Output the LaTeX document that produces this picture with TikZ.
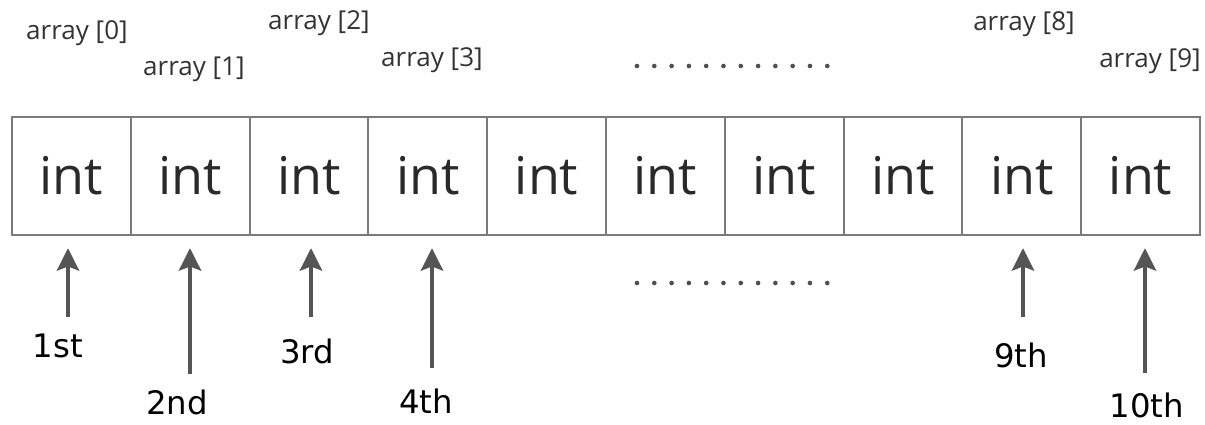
\documentclass[tikz,border=0pt]{standalone}
\usepackage{fontspec}
\setmainfont{Open Sans}
\newfontfamily\ordfont{DejaVu Sans}
\usetikzlibrary{arrows.meta,positioning}
\definecolor{cellline}{HTML}{7A7A7A}
\definecolor{inttext}{HTML}{2A2A2A}
\definecolor{idxtext}{HTML}{333333}
\definecolor{ptrgray}{HTML}{555555}
\definecolor{dotgray}{HTML}{505050}

\begin{document}
\begin{tikzpicture}[x=0.025cm, y=-0.025cm,
        cell/.style={rectangle, draw=cellline, line width=1.3pt, minimum width=2.97cm, minimum height=2.95cm, inner sep=0pt, outer sep=0pt, text=inttext, font=\fontsize{37}{40}\selectfont},
        idx/.style={inner sep=0pt, text=idxtext, font=\fontsize{18.5}{21}\selectfont},
        ord/.style={inner sep=0pt, text=black, font=\ordfont\fontsize{23}{26}\selectfont},
        ptr/.style={-{Stealth[length=16pt, width=16pt, inset=3pt]}, line width=2.2pt, draw=ptrgray, shorten >=0.33cm},
        dots/.style={line width=3.3pt, line cap=round, dash pattern=on 0pt off 12.3pt, draw=dotgray},
    ]
        \useasboundingbox (0,0) rectangle (1205,424);

        % the ten cells of the array
        \node[cell] (c0) at (71.4,176) {int};
        \node[cell] (c1) at (190.2,176) {int};
        \node[cell] (c2) at (309,176) {int};
        \node[cell] (c3) at (427.8,176) {int};
        \node[cell] (c4) at (546.6,176) {int};
        \node[cell] (c5) at (665.4,176) {int};
        \node[cell] (c6) at (784.2,176) {int};
        \node[cell] (c7) at (903,176) {int};
        \node[cell] (c8) at (1021.8,176) {int};
        \node[cell] (c9) at (1140.6,176) {int};

        % index labels
        \node[idx] (i0) at (77,33) {array [0]};
        \node[idx] (i1) at (194,69) {array [1]};
        \node[idx] (i2) at (319,23) {array [2]};
        \node[idx] (i3) at (432,60) {array [3]};
        \node[idx] (i8) at (1024,24) {array [8]};
        \node[idx] (i9) at (1150,61) {array [9]};
        \draw[dots] (637,66) -- (828,66);

        % ordinal labels and pointers
        \node[ord] (o0) at (58,346) {1st};
        \node[ord] (o1) at (177,402) {2nd};
        \node[ord] (o2) at (307,351) {3rd};
        \node[ord] (o3) at (426,401) {4th};
        \node[ord] (o8) at (1021,355) {9th};
        \node[ord] (o9) at (1147,405) {10th};
        \draw[dots] (637,283) -- (828,283);

        \coordinate (t0) at (68,317);
        \coordinate (t1) at (190,374);
        \coordinate (t2) at (311,317);
        \coordinate (t3) at (432,368);
        \coordinate (t8) at (1023,317);
        \coordinate (t9) at (1145,373);
        \draw[ptr] (t0) -- (t0 |- c0.south);
        \draw[ptr] (t1) -- (t1 |- c1.south);
        \draw[ptr] (t2) -- (t2 |- c2.south);
        \draw[ptr] (t3) -- (t3 |- c3.south);
        \draw[ptr] (t8) -- (t8 |- c8.south);
        \draw[ptr] (t9) -- (t9 |- c9.south);
    \end{tikzpicture}
\end{document}
